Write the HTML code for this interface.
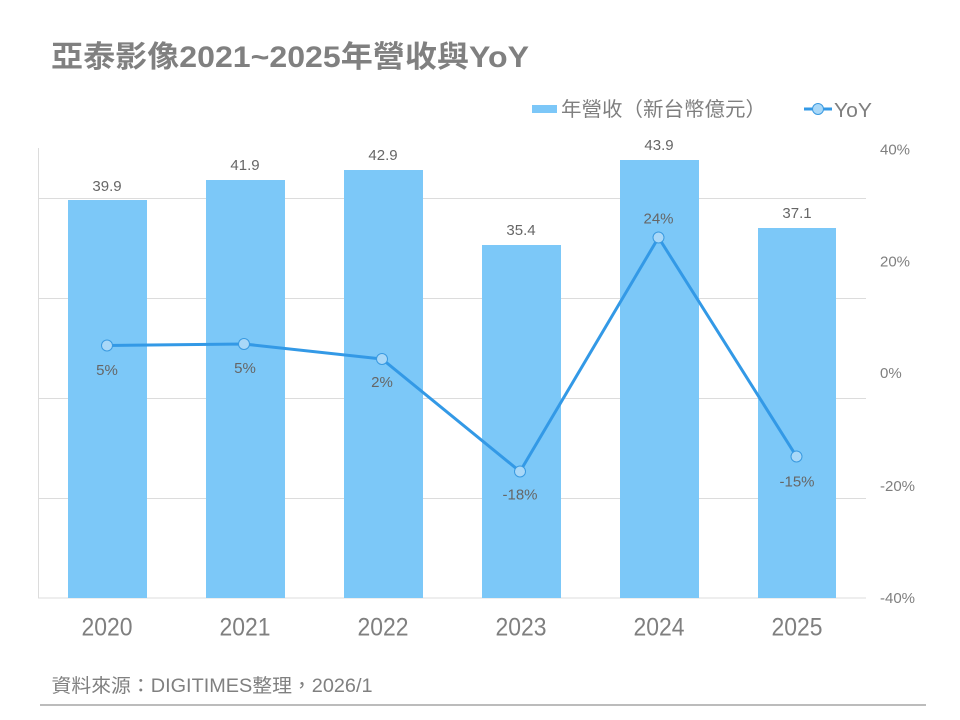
<!DOCTYPE html>
<html>
<head>
<meta charset="utf-8">
<style>
  html, body { margin: 0; padding: 0; background: #ffffff; }
  svg { display: block; }
  text { font-family: "Liberation Sans", "Noto Sans CJK TC", sans-serif; }
</style>
</head>
<body>
<svg width="960" height="720" viewBox="0 0 960 720" xmlns="http://www.w3.org/2000/svg">
  <rect width="960" height="720" fill="#ffffff"/>

  <!-- Title -->
  <text x="51" y="67" font-size="30" font-weight="bold" fill="#808080" textLength="478" lengthAdjust="spacingAndGlyphs">亞泰影像2021~2025年營收與YoY</text>

  <!-- Legend -->
  <rect x="532" y="105" width="25" height="8" fill="#7cc7f8"/>
  <text x="561" y="116" font-size="20" fill="#7f7f7f" textLength="205" lengthAdjust="spacingAndGlyphs">年營收（新台幣億元）</text>
  <line x1="804" y1="109" x2="832" y2="109" stroke="#3399e6" stroke-width="3"/>
  <circle cx="818" cy="109" r="5.5" fill="#a9d8f8" stroke="#3a9ae0" stroke-width="1"/>
  <text x="834" y="117" font-size="20" fill="#7f7f7f" textLength="38" lengthAdjust="spacingAndGlyphs">YoY</text>

  <!-- Gridlines -->
  <g stroke="#dcdcdc" stroke-width="1">
    <line x1="38" y1="198.5" x2="866" y2="198.5"/>
    <line x1="38" y1="298.5" x2="866" y2="298.5"/>
    <line x1="38" y1="398.5" x2="866" y2="398.5"/>
    <line x1="38" y1="498.5" x2="866" y2="498.5"/>
    <line x1="38" y1="598" x2="866" y2="598"/>
    <line x1="38.5" y1="148" x2="38.5" y2="598"/>
  </g>

  <!-- Bars -->
  <g fill="#7cc8f8">
    <rect x="68" y="200" width="79" height="398"/>
    <rect x="206" y="180" width="79" height="418"/>
    <rect x="344" y="170" width="79" height="428"/>
    <rect x="482" y="245" width="79" height="353"/>
    <rect x="620" y="160" width="79" height="438"/>
    <rect x="758" y="228" width="78" height="370"/>
  </g>

  <!-- Bar value labels -->
  <g font-size="15" fill="#666666" text-anchor="middle">
    <text x="107" y="191">39.9</text>
    <text x="245" y="170">41.9</text>
    <text x="383" y="160">42.9</text>
    <text x="521" y="235">35.4</text>
    <text x="659" y="150">43.9</text>
    <text x="797" y="218">37.1</text>
  </g>

  <!-- YoY line -->
  <polyline points="107,345.5 244,344 382,359 520,471.5 658.5,237.5 796.5,456.5" fill="none" stroke="#3399e6" stroke-width="3" stroke-linejoin="round"/>
  <g fill="#a9d8f8" stroke="#3a9ae0" stroke-width="1">
    <circle cx="107" cy="345.5" r="5.5"/>
    <circle cx="244" cy="344" r="5.5"/>
    <circle cx="382" cy="359" r="5.5"/>
    <circle cx="520" cy="471.5" r="5.5"/>
    <circle cx="658.5" cy="237.5" r="5.5"/>
    <circle cx="796.5" cy="456.5" r="5.5"/>
  </g>

  <!-- YoY labels -->
  <g font-size="15" fill="#666666" text-anchor="middle">
    <text x="107" y="375">5%</text>
    <text x="245" y="373">5%</text>
    <text x="382" y="387">2%</text>
    <text x="520" y="499.5">-18%</text>
    <text x="658.5" y="223.5">24%</text>
    <text x="797" y="486.5">-15%</text>
  </g>

  <!-- Right axis labels -->
  <g font-size="15" fill="#7f7f7f">
    <text x="880" y="154.5">40%</text>
    <text x="880" y="266.5">20%</text>
    <text x="880" y="378">0%</text>
    <text x="880" y="491">-20%</text>
    <text x="880" y="603">-40%</text>
  </g>

  <!-- Category labels -->
  <g font-size="25" fill="#7f7f7f" text-anchor="middle">
    <text x="107" y="635.5" textLength="51" lengthAdjust="spacingAndGlyphs">2020</text>
    <text x="245" y="635.5" textLength="51" lengthAdjust="spacingAndGlyphs">2021</text>
    <text x="383" y="635.5" textLength="51" lengthAdjust="spacingAndGlyphs">2022</text>
    <text x="521" y="635.5" textLength="51" lengthAdjust="spacingAndGlyphs">2023</text>
    <text x="659" y="635.5" textLength="51" lengthAdjust="spacingAndGlyphs">2024</text>
    <text x="797" y="635.5" textLength="51" lengthAdjust="spacingAndGlyphs">2025</text>
  </g>

  <!-- Source -->
  <text x="51.5" y="692" font-size="19" fill="#808080" textLength="321" lengthAdjust="spacingAndGlyphs">資料來源：DIGITIMES整理，2026/1</text>
  <line x1="40" y1="705" x2="926" y2="705" stroke="#a6a6a6" stroke-width="1.5"/>
</svg>
</body>
</html>
